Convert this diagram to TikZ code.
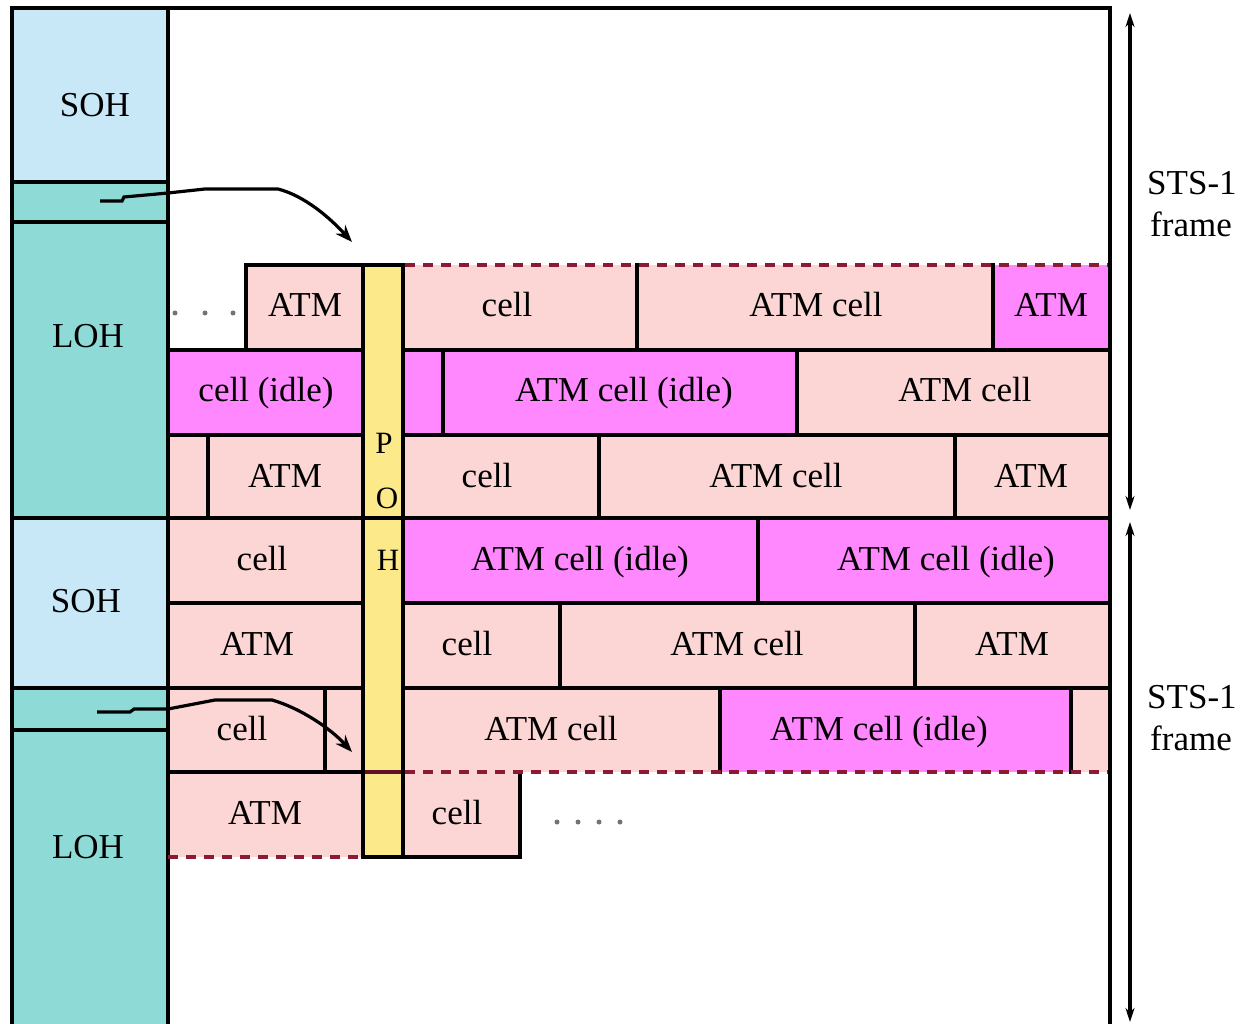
\documentclass[tikz,border=0pt]{standalone}
\usepackage{fontspec}
\setmainfont{Liberation Serif}
\usetikzlibrary{arrows.meta}
\definecolor{sohc}{HTML}{C8E8F8}
\definecolor{lohc}{HTML}{8EDAD6}
\definecolor{pinkc}{HTML}{FCD5D5}
\definecolor{magc}{HTML}{FF88FF}
\definecolor{pohc}{HTML}{FCE98A}
\definecolor{dashc}{HTML}{8B1A35}
\tikzset{
  lbl/.style={inner sep=0pt, anchor=base, font=\fontsize{35}{40}\selectfont},
  pohl/.style={inner sep=0pt, anchor=base, font=\fontsize{31}{36}\selectfont},
  blk/.style={line width=3.6pt, black, line cap=rect},
  spe/.style={line width=3.4pt, dashc, dash pattern=on 10pt off 8pt},
  ptr/.style={line width=3.2pt, black, -{Stealth[length=17pt,width=13pt]}},
  dim/.style={line width=3.4pt, black, {Stealth[length=14pt,width=9pt]}-{Stealth[length=14pt,width=9pt]}},
  dotc/.style={fill=gray!90!black}
}
\begin{document}
\begin{tikzpicture}[x=1pt,y=-1pt]
\useasboundingbox (0,0) rectangle (1243,1024);
\begin{scope}
\clip (0,0) rectangle (1243,1024);
% left column
\fill[sohc] (12,8) rectangle (168,182);
\fill[lohc] (12,182) rectangle (168,518);
\fill[sohc] (12,518) rectangle (168,688);
\fill[lohc] (12,688) rectangle (168,1030);
% POH column
\fill[pohc] (363,265) rectangle (403,857);
% row 1
\fill[pinkc] (246,265) rectangle (363,350);
\fill[pinkc] (403,265) rectangle (993,350);
\fill[magc] (993,265) rectangle (1110,350);
% row 2
\fill[magc] (168,350) rectangle (363,435);
\fill[magc] (403,350) rectangle (797,435);
\fill[pinkc] (797,350) rectangle (1110,435);
% row 3
\fill[pinkc] (168,435) rectangle (363,518);
\fill[pinkc] (403,435) rectangle (1110,518);
% row 4
\fill[pinkc] (168,518) rectangle (363,603);
\fill[magc] (403,518) rectangle (1110,603);
% row 5
\fill[pinkc] (168,603) rectangle (363,688);
\fill[pinkc] (403,603) rectangle (1110,688);
% row 6
\fill[pinkc] (168,688) rectangle (363,772);
\fill[pinkc] (403,688) rectangle (720,772);
\fill[magc] (720,688) rectangle (1071,772);
\fill[pinkc] (1071,688) rectangle (1110,772);
% row 7
\fill[pinkc] (168,772) rectangle (363,857);
\fill[pinkc] (403,772) rectangle (520,857);

% frame and column lines
\draw[blk] (12,1030) -- (12,8) -- (1110,8) -- (1110,1030);
\draw[blk] (168,8) -- (168,1030);
\draw[blk] (12,182) -- (168,182);
\draw[blk] (12,222) -- (168,222);
\draw[blk] (12,518) -- (1110,518);
\draw[blk] (12,688) -- (363,688);
\draw[blk] (12,730) -- (168,730);
% horizontal cell lines
\draw[blk] (246,265) -- (403,265);
\draw[blk] (168,350) -- (363,350) (403,350) -- (1110,350);
\draw[blk] (168,435) -- (363,435) (403,435) -- (1110,435);
\draw[blk] (168,603) -- (363,603) (403,603) -- (1110,603);
\draw[blk] (403,688) -- (1110,688);
\draw[blk] (168,772) -- (363,772);
\draw[line width=3.4pt, dashc!70!black] (363,772) -- (403,772);
\draw[blk] (363,857) -- (520,857);
% vertical cell lines
\draw[blk] (246,265) -- (246,350);
\draw[blk] (363,265) -- (363,857);
\draw[blk] (403,265) -- (403,857);
\draw[blk] (637,265) -- (637,350);
\draw[blk] (993,265) -- (993,350);
\draw[blk] (443,350) -- (443,435);
\draw[blk] (797,350) -- (797,435);
\draw[blk] (208,435) -- (208,518);
\draw[blk] (599,435) -- (599,518);
\draw[blk] (955,435) -- (955,518);
\draw[blk] (758,518) -- (758,603);
\draw[blk] (560,603) -- (560,688);
\draw[blk] (915,603) -- (915,688);
\draw[blk] (325,688) -- (325,772);
\draw[blk] (720,688) -- (720,772);
\draw[blk] (1071,688) -- (1071,772);
\draw[blk] (520,772) -- (520,857);
% SPE boundary dashed
\draw[spe] (405,265) -- (1108,265);
\draw[spe] (405,772) -- (1108,772);
\draw[spe] (168,857) -- (361,857);
\end{scope}

% dots
\foreach \xx in {175,205,233} \fill[dotc] (\xx,313) circle (2.5pt);
\foreach \xx in {557,578,599,620} \fill[dotc] (\xx,822) circle (2.5pt);

% overhead labels
\node[lbl] (soh1) at (95,117) {SOH};
\node[lbl] (loh1) at (88,348) {LOH};
\node[lbl] (soh2) at (86,612) {SOH};
\node[lbl] (loh2) at (88,858) {LOH};
% POH letters
\node[pohl] (pP) at (384,453) {P};
\node[pohl] (pO) at (387,508) {O};
\node[pohl] (pH) at (388,570) {H};
% row 1
\node[lbl] (a1) at (305,317) {ATM};
\node[lbl] (a2) at (507,317) {cell};
\node[lbl] (a3) at (816,317) {ATM cell};
\node[lbl] (a4) at (1051,317) {ATM};
% row 2
\node[lbl] (b1) at (266,402) {cell (idle)};
\node[lbl] (b2) at (624,402) {ATM cell (idle)};
\node[lbl] (b3) at (965,402) {ATM cell};
% row 3
\node[lbl] (c1) at (285,487) {ATM};
\node[lbl] (c2) at (487,487) {cell};
\node[lbl] (c3) at (776,487) {ATM cell};
\node[lbl] (c4) at (1031,487) {ATM};
% row 4
\node[lbl] (d1) at (262,570) {cell};
\node[lbl] (d2) at (580,570) {ATM cell (idle)};
\node[lbl] (d3) at (946,570) {ATM cell (idle)};
% row 5
\node[lbl] (e1) at (257,655) {ATM};
\node[lbl] (e2) at (467,655) {cell};
\node[lbl] (e3) at (737,655) {ATM cell};
\node[lbl] (e4) at (1012,655) {ATM};
% row 6
\node[lbl] (f1) at (242,740) {cell};
\node[lbl] (f2) at (551,740) {ATM cell};
\node[lbl] (f3) at (879,740) {ATM cell (idle)};
% row 7
\node[lbl] (g1) at (265,824) {ATM};
\node[lbl] (g2) at (457,824) {cell};

% pointer arrows
\coordinate (p1s) at (100,201);
\coordinate (p1e) at (352,242);
\draw[ptr] (p1s) -- (122,201) -- (124,197) -- (168,193) -- (205,189) -- (278,189)
  .. controls (305,196) and (330,218) .. (p1e);
\coordinate (p2s) at (97,712);
\coordinate (p2e) at (352,752);
\draw[ptr] (p2s) -- (130,712) -- (134,709) -- (168,709) -- (215,700) -- (272,700)
  .. controls (300,708) and (330,728) .. (p2e);

% STS-1 frame dimension arrows
\coordinate (s1t) at (1130,13);
\coordinate (s1b) at (1130,510);
\coordinate (s2t) at (1130,522);
\coordinate (s2b) at (1130,1022);
\draw[dim] (s1t) -- (s1b);
\draw[dim] (s2t) -- (s2b);
\node[lbl, anchor=base west] (st1) at (1147,195) {STS-1};
\node[lbl, anchor=base west] (fr1) at (1150,237) {frame};
\node[lbl, anchor=base west] (st2) at (1147,708) {STS-1};
\node[lbl, anchor=base west] (fr2) at (1150,750) {frame};
\end{tikzpicture}
\end{document}
